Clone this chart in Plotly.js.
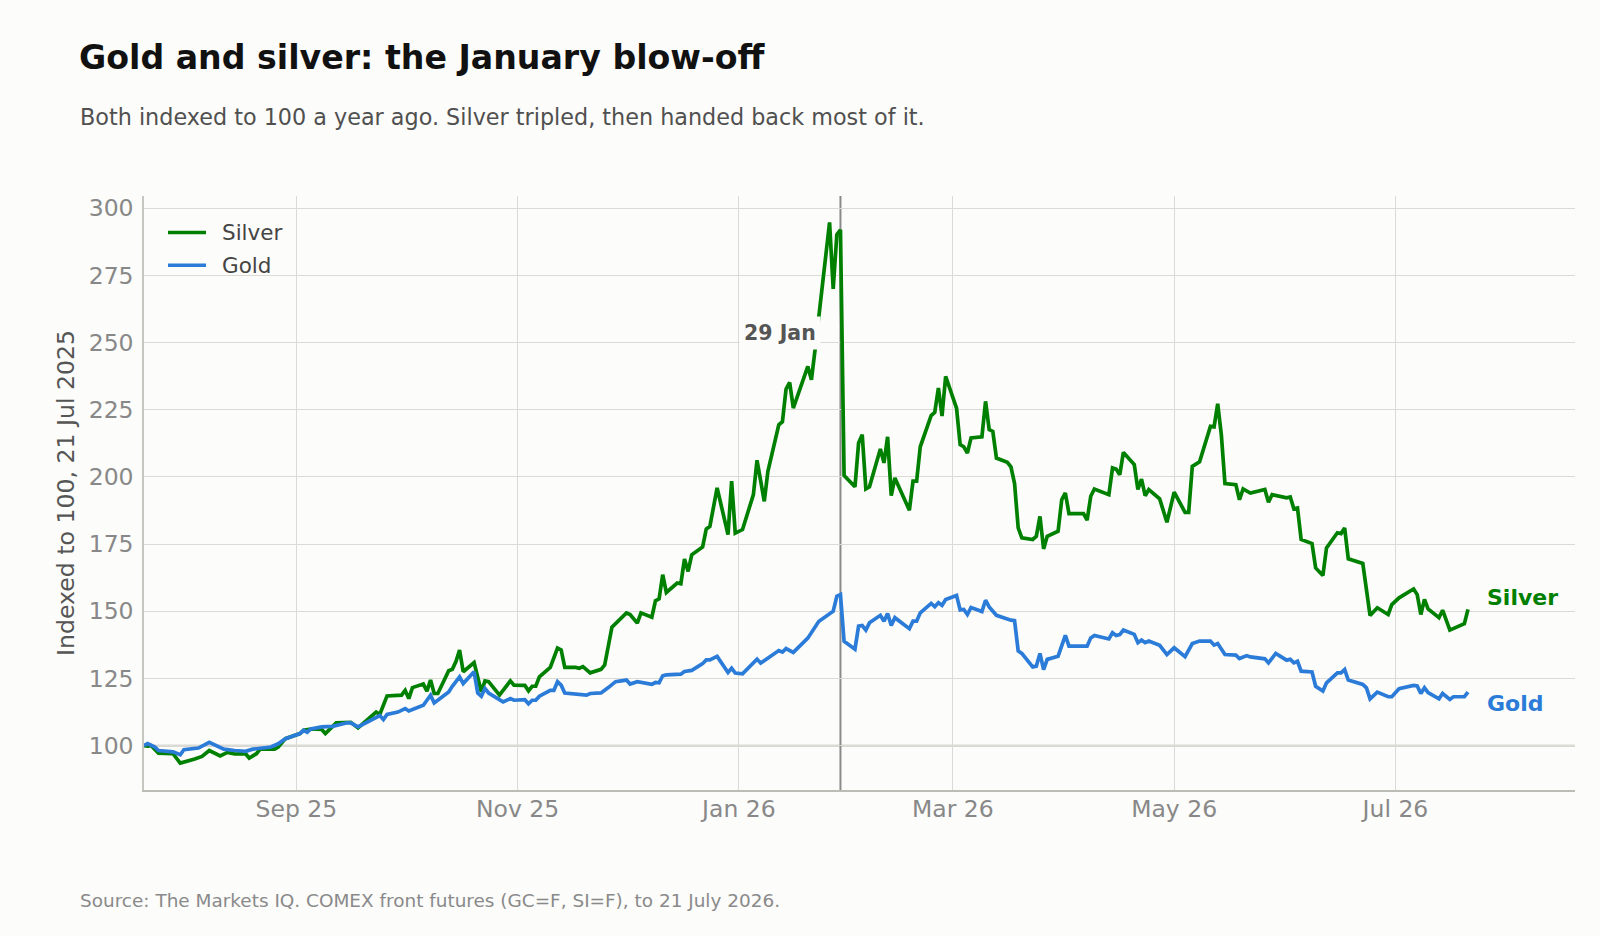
<!DOCTYPE html>
<html>
<head>
<meta charset="utf-8">
<script src="https://cdn.plot.ly/plotly-3.0.1.min.js"></script>
<style>
  html, body { margin: 0; padding: 0; background: #fcfcfa; }
  #chart { width: 1600px; height: 936px; }
</style>
</head>
<body>
<div id="chart"></div>
<script>
// Silver, indexed to 100 on 21 Jul 2025
const silverDates = [
  "2025-07-21","2025-07-22","2025-07-23","2025-07-25","2025-07-29","2025-07-31","2025-08-04","2025-08-06",
  "2025-08-08","2025-08-11","2025-08-13","2025-08-15","2025-08-18","2025-08-19","2025-08-21","2025-08-22",
  "2025-08-26","2025-08-27","2025-08-29","2025-09-02","2025-09-03","2025-09-05","2025-09-08","2025-09-09",
  "2025-09-12","2025-09-16","2025-09-18","2025-09-22","2025-09-23","2025-09-24","2025-09-26","2025-09-30",
  "2025-10-01","2025-10-02","2025-10-03","2025-10-06","2025-10-07","2025-10-08","2025-10-09","2025-10-10",
  "2025-10-13","2025-10-14","2025-10-15","2025-10-16","2025-10-17","2025-10-20","2025-10-22","2025-10-23",
  "2025-10-24","2025-10-27","2025-10-30","2025-10-31","2025-11-03","2025-11-04","2025-11-05","2025-11-06",
  "2025-11-07","2025-11-10","2025-11-12","2025-11-13","2025-11-14","2025-11-17","2025-11-18","2025-11-19",
  "2025-11-21","2025-11-24","2025-11-25","2025-11-27","2025-12-01","2025-12-02","2025-12-04","2025-12-05",
  "2025-12-08","2025-12-09","2025-12-10","2025-12-11","2025-12-12","2025-12-15","2025-12-16","2025-12-17",
  "2025-12-18","2025-12-19","2025-12-22","2025-12-23","2025-12-24","2025-12-26","2025-12-29","2025-12-30",
  "2025-12-31","2026-01-02","2026-01-05","2026-01-06","2026-01-08","2026-01-09","2026-01-12","2026-01-13",
  "2026-01-14","2026-01-15","2026-01-16","2026-01-20","2026-01-21","2026-01-22","2026-01-23","2026-01-26",
  "2026-01-27","2026-01-28","2026-01-29","2026-01-30","2026-02-02","2026-02-03","2026-02-04","2026-02-05",
  "2026-02-06","2026-02-09","2026-02-10","2026-02-11","2026-02-12","2026-02-13","2026-02-17","2026-02-18",
  "2026-02-19","2026-02-20","2026-02-23","2026-02-24","2026-02-25","2026-02-26","2026-02-27","2026-03-02",
  "2026-03-03","2026-03-04","2026-03-05","2026-03-06","2026-03-09","2026-03-10","2026-03-11","2026-03-12",
  "2026-03-13","2026-03-16","2026-03-17","2026-03-18","2026-03-19","2026-03-20","2026-03-23","2026-03-24",
  "2026-03-25","2026-03-26","2026-03-27","2026-03-30","2026-03-31","2026-04-01","2026-04-02","2026-04-06",
  "2026-04-07","2026-04-08","2026-04-09","2026-04-13","2026-04-14","2026-04-15","2026-04-16","2026-04-17",
  "2026-04-20","2026-04-21","2026-04-22","2026-04-23","2026-04-24","2026-04-27","2026-04-29","2026-05-01",
  "2026-05-04","2026-05-05","2026-05-06","2026-05-08","2026-05-11","2026-05-12","2026-05-13","2026-05-14",
  "2026-05-15","2026-05-18","2026-05-19","2026-05-20","2026-05-22","2026-05-26","2026-05-27","2026-05-28",
  "2026-06-01","2026-06-02","2026-06-03","2026-06-04","2026-06-05","2026-06-08","2026-06-09","2026-06-11",
  "2026-06-12","2026-06-15","2026-06-16","2026-06-17","2026-06-18","2026-06-22","2026-06-24","2026-06-26",
  "2026-06-29","2026-06-30","2026-07-02","2026-07-06","2026-07-07","2026-07-08","2026-07-09","2026-07-10",
  "2026-07-13","2026-07-14","2026-07-16","2026-07-20","2026-07-21"
];
const silverIndex = [
  100, 99.8, 100, 97.2, 97, 93.5, 95, 96,
  98.2, 96.2, 97.5, 96.9, 97, 95.4, 97, 98.7,
  98.7, 99.5, 102.6, 104.5, 105.7, 106.2, 106, 104.5,
  108.5, 108.7, 106.6, 111.2, 112.5, 111.6, 118.5, 118.8,
  120.6, 117.5, 121.6, 122.9, 120.3, 124.4, 119.4, 119.4,
  127.9, 128.4, 131.3, 135.6, 127.5, 130.9, 120, 124.1,
  123.8, 118.8, 124.1, 122.5, 122.4, 120.4, 122.1, 122.1,
  125.6, 129.1, 136.3, 135.6, 129.1, 129.1, 128.8, 129.4,
  127.1, 128.4, 130, 144.1, 149.4, 148.8, 145.6, 149.4,
  147.8, 153.9, 154.6, 163.6, 157, 160.5, 160.2, 169.4,
  164.8, 171, 173.9, 180.6, 181.6, 195.9, 178.5, 198.4,
  179.1, 180.4, 193.4, 206.2, 190.9, 202.1, 219.4, 220.5,
  232.7, 235.1, 225.6, 241.1, 236.1, 247.3, 259, 294.7,
  269.9, 290.1, 291.9, 200.5, 196.3, 212.6, 215.7, 195.5,
  196.3, 210.4, 205.2, 214.9, 193, 199.6, 187.6, 198.4,
  198.4, 211.2, 222.8, 224, 233.1, 222.6, 237.4, 225.6,
  212, 211.2, 208.9, 214.5, 214.9, 228.1, 217.6, 216.9,
  207, 205.4, 203.7, 197.5, 181, 177.3, 176.7, 177.9,
  185.3, 173.2, 177.9, 179.8, 191.5, 194, 186.3, 186.3,
  183.9, 192.8, 195.5, 193.4, 203.3, 202.9, 200.8, 209.1,
  204.6, 195.3, 199.2, 193, 195.3, 191.8, 183.1, 194.3,
  186.8, 186.8, 203.9, 205.6, 218.8, 218.6, 227.2, 215.7,
  197.5, 197.1, 191.5, 195.5, 194, 195.3, 190.6, 193.4,
  192.2, 192.5, 188.1, 188.4, 176.7, 175.2, 166.1, 163.3,
  173.6, 179.2, 178.9, 181, 169.5, 167.8, 148.4, 151.3,
  148.8, 152.5, 155, 158.3, 156.2, 148.8, 154.4, 150.9,
  147.6, 150.4, 143, 145.4, 150.7
];

// Gold, indexed to 100 on 21 Jul 2025
const goldDates = [
  "2025-07-21","2025-07-22","2025-07-24","2025-07-25","2025-07-29","2025-07-31","2025-08-01","2025-08-05",
  "2025-08-08","2025-08-11","2025-08-12","2025-08-15","2025-08-18","2025-08-20","2025-08-22","2025-08-25",
  "2025-08-27","2025-08-29","2025-09-02","2025-09-03","2025-09-04","2025-09-05","2025-09-08","2025-09-11",
  "2025-09-15","2025-09-16","2025-09-18","2025-09-22","2025-09-24","2025-09-25","2025-09-26","2025-09-29",
  "2025-10-01","2025-10-02","2025-10-06","2025-10-07","2025-10-08","2025-10-09","2025-10-13","2025-10-14",
  "2025-10-16","2025-10-17","2025-10-20","2025-10-21","2025-10-22","2025-10-23","2025-10-24","2025-10-28",
  "2025-10-30","2025-10-31","2025-11-03","2025-11-04","2025-11-05","2025-11-06","2025-11-07","2025-11-10",
  "2025-11-11","2025-11-12","2025-11-13","2025-11-14","2025-11-18","2025-11-20","2025-11-21","2025-11-24",
  "2025-11-26","2025-11-28","2025-12-01","2025-12-02","2025-12-04","2025-12-05","2025-12-08","2025-12-09",
  "2025-12-10","2025-12-11","2025-12-12","2025-12-16","2025-12-17","2025-12-19","2025-12-22","2025-12-23",
  "2025-12-24","2025-12-26","2025-12-29","2025-12-30","2025-12-31","2026-01-02","2026-01-06","2026-01-07",
  "2026-01-09","2026-01-12","2026-01-13","2026-01-14","2026-01-16","2026-01-20","2026-01-23","2026-01-26",
  "2026-01-27","2026-01-28","2026-01-29","2026-01-30","2026-02-02","2026-02-03","2026-02-04","2026-02-05",
  "2026-02-06","2026-02-09","2026-02-10","2026-02-11","2026-02-12","2026-02-13","2026-02-17","2026-02-18",
  "2026-02-19","2026-02-20","2026-02-23","2026-02-24","2026-02-25","2026-02-26","2026-02-27","2026-03-02",
  "2026-03-03","2026-03-04","2026-03-05","2026-03-06","2026-03-09","2026-03-10","2026-03-11","2026-03-13",
  "2026-03-16","2026-03-17","2026-03-18","2026-03-19","2026-03-20","2026-03-23","2026-03-24","2026-03-25",
  "2026-03-26","2026-03-27","2026-03-30","2026-04-01","2026-04-02","2026-04-06","2026-04-07","2026-04-08",
  "2026-04-09","2026-04-13","2026-04-14","2026-04-15","2026-04-16","2026-04-17","2026-04-20","2026-04-21",
  "2026-04-22","2026-04-23","2026-04-24","2026-04-27","2026-04-29","2026-05-01","2026-05-04","2026-05-06",
  "2026-05-08","2026-05-11","2026-05-12","2026-05-13","2026-05-15","2026-05-18","2026-05-19","2026-05-21",
  "2026-05-22","2026-05-26","2026-05-27","2026-05-29","2026-06-01","2026-06-02","2026-06-03","2026-06-04",
  "2026-06-05","2026-06-08","2026-06-09","2026-06-11","2026-06-12","2026-06-15","2026-06-16","2026-06-17",
  "2026-06-18","2026-06-22","2026-06-23","2026-06-24","2026-06-26","2026-06-29","2026-06-30","2026-07-02",
  "2026-07-06","2026-07-07","2026-07-08","2026-07-09","2026-07-10","2026-07-13","2026-07-14","2026-07-16",
  "2026-07-17","2026-07-20","2026-07-21"
];
const goldIndex = [
  100, 100.8, 99.5, 98.2, 97.7, 96.6, 98.5, 99.1,
  101.2, 99.5, 98.7, 98.2, 97.9, 98.7, 99.1, 99.5,
  100.7, 102.6, 104.5, 105.7, 105, 106.2, 107, 107.2,
  108.5, 108.5, 107, 110, 111.2, 109.7, 111.6, 112.5,
  113.8, 112.9, 115, 116.9, 118.8, 115.9, 120, 122.1,
  125.6, 123.1, 127.5, 119.6, 118.4, 121.3, 119.6, 116.3,
  117.5, 116.9, 117.1, 115.6, 116.9, 116.9, 118.4, 120.6,
  120.6, 123.8, 122.5, 119.6, 119.1, 118.8, 119.4, 119.6,
  121.6, 123.8, 124.4, 122.9, 123.8, 123.6, 122.8, 123.5,
  123.4, 126, 126.3, 126.6, 127.6, 128, 130.5, 131.9,
  131.9, 133.2, 127.2, 128.8, 127, 126.7, 132.2, 130.7,
  132.5, 135.4, 134.8, 136.1, 134.7, 140, 146.2, 149.3,
  150, 155.6, 156.2, 138.8, 135.9, 144.5, 144.7, 143,
  145.7, 148.5, 146.3, 149.2, 144.7, 147.6, 143.5, 146.3,
  146.3, 149.4, 152.9, 151.7, 153.2, 152.2, 154.4, 155.9,
  150.5, 150.7, 148.8, 151.4, 149.9, 154.1, 151.6, 148.5,
  147, 146.7, 146.5, 135.2, 134.3, 129.3, 129.6, 134.3,
  128.3, 132.1, 133.3, 141, 137, 137, 137, 140.1,
  141, 139.7, 142, 141, 141.3, 143, 141.4, 138.3,
  139.3, 138.3, 138.9, 137.3, 133.9, 136.4, 133.1, 138,
  138.9, 138.9, 137.4, 138, 133.9, 133.7, 132.4, 133.5,
  133, 132.3, 130.8, 134.3, 131.8, 132.1, 130.8, 131.4,
  127.7, 127.4, 122.1, 120.3, 123.4, 127.1, 127.1, 128.3,
  124.4, 122.8, 121.5, 117.4, 119.9, 118.2, 118.2, 121.2,
  122.4, 122.2, 119.4, 121.5, 119.7, 117.4, 119.4, 117.2,
  118.2, 118.2, 119.9
];

// Axis ticks
const xTickDates = ["2025-09-01","2025-11-01","2026-01-01","2026-03-01","2026-05-01","2026-07-01"];
const xTickLabels = ["Sep 25","Nov 25","Jan 26","Mar 26","May 26","Jul 26"];
const yTickValues = [100, 125, 150, 175, 200, 225, 250, 275, 300];

const seriesNames = ["Silver", "Gold"];
const peakDate = "2026-01-29";
const peakLabel = "29 Jan";

const SILVER = "#008000";
const GOLD = "#2b7bd8";
const BG = "#fcfcfa";
const FONT = "DejaVu Sans, Verdana, sans-serif";

// plot area in pixels, used to place the furniture around it
const PLOT = { left: 144, top: 196, width: 1431, height: 594 };
const px = (x) => (x - PLOT.left) / PLOT.width;
const py = (y) => (PLOT.top + PLOT.height - y) / PLOT.height;

const traces = [
  {
    type: "scatter", mode: "lines", name: seriesNames[0],
    x: silverDates, y: silverIndex,
    line: { color: SILVER, width: 3.7 },
    hoverinfo: "x+y+name"
  },
  {
    type: "scatter", mode: "lines", name: seriesNames[1],
    x: goldDates, y: goldIndex,
    line: { color: GOLD, width: 3.7 },
    hoverinfo: "x+y+name"
  }
];

const lastSilver = silverIndex[silverIndex.length - 1];
const lastGold = goldIndex[goldIndex.length - 1];

// key in the upper left corner
const keyRows = [
  { name: seriesNames[0], color: SILVER, y: 232.5 },
  { name: seriesNames[1], color: GOLD, y: 265.3 }
];
const keyShapes = keyRows.map(r => ({
  type: "line", xref: "paper", yref: "paper",
  x0: px(168), x1: px(206), y0: py(r.y), y1: py(r.y),
  line: { color: r.color, width: 3.6 }
}));
const keyLabels = keyRows.map(r => ({
  text: r.name, xref: "paper", yref: "paper", x: px(220), y: py(r.y),
  xanchor: "left", yanchor: "middle", showarrow: false,
  font: { family: FONT, size: 21.5, color: "#444" }
}));

const layout = {
  width: 1600, height: 936,
  paper_bgcolor: BG, plot_bgcolor: BG,
  font: { family: FONT, color: "#444" },
  margin: { l: 144, r: 25, t: 196, b: 146 },
  showlegend: false,
  title: {
    text: "<b>Gold and silver: the January blow-off</b>",
    font: { family: FONT, size: 33.2, color: "#111" },
    x: 79 / 1600, xref: "container", xanchor: "left",
    y: 1 - 57 / 936, yref: "container", yanchor: "middle"
  },
  xaxis: {
    type: "date",
    range: ["2025-07-21", "2026-08-19 12:00"],
    tickvals: xTickDates, ticktext: xTickLabels,
    tickfont: { family: FONT, size: 23.5, color: "#888" },
    ticks: "", ticklabelstandoff: -3,
    showgrid: true, gridcolor: "#dcdad5", gridwidth: 1.4,
    showline: true, linecolor: "#bcbcb6", linewidth: 2,
    zeroline: false, fixedrange: true
  },
  yaxis: {
    range: [83.5, 304.5],
    tickvals: yTickValues,
    tickfont: { family: FONT, size: 23.5, color: "#888" },
    ticks: "", ticklabelstandoff: 4,
    showgrid: true, gridcolor: "#dcdad5", gridwidth: 1.4,
    showline: true, linecolor: "#c8c6c0", linewidth: 1.5,
    zeroline: false, fixedrange: true,
    title: {
      text: "Indexed to 100, 21 Jul 2025",
      font: { family: FONT, size: 23.6, color: "#555" },
      standoff: 7
    },
    automargin: false
  },
  shapes: [
    // base line at the index value of 100
    { type: "line", xref: "paper", x0: 0, x1: 1, yref: "y", y0: 100, y1: 100,
      line: { color: "#b3b3ad", width: 1.8 }, layer: "below" },
    // marker for the silver peak
    { type: "line", xref: "x", x0: peakDate, x1: peakDate, yref: "paper", y0: 0, y1: 1,
      line: { color: "#8a8a8a", width: 2 }, layer: "below" },
    ...keyShapes
  ],
  annotations: [
    {
      text: "Both indexed to 100 a year ago. Silver tripled, then handed back most of it.",
      xref: "paper", yref: "paper", x: px(78), y: py(117),
      xanchor: "left", yanchor: "middle", showarrow: false,
      font: { family: FONT, size: 22.3, color: "#505050" }
    },
    {
      text: "Source: The Markets IQ. COMEX front futures (GC=F, SI=F), to 21 July 2026.",
      xref: "paper", yref: "paper", x: px(78), y: py(900),
      xanchor: "left", yanchor: "middle", showarrow: false,
      font: { family: FONT, size: 18.45, color: "#8a8a8a" }
    },
    {
      text: "<b>" + peakLabel + "</b>",
      xref: "x", yref: "y", x: peakDate, y: 253.5,
      xanchor: "right", yanchor: "middle", xshift: -19, showarrow: false,
      bgcolor: BG, borderpad: 4,
      font: { family: FONT, size: 20.5, color: "#555" }
    },
    {
      text: "<b>" + seriesNames[0] + "</b>",
      xref: "x", yref: "y", x: silverDates[silverDates.length - 1], y: lastSilver,
      xanchor: "left", yanchor: "middle", xshift: 17, yshift: 12, showarrow: false,
      font: { family: FONT, size: 22, color: SILVER }
    },
    {
      text: "<b>" + seriesNames[1] + "</b>",
      xref: "x", yref: "y", x: goldDates[goldDates.length - 1], y: lastGold,
      xanchor: "left", yanchor: "middle", xshift: 17, yshift: -11, showarrow: false,
      font: { family: FONT, size: 22, color: GOLD }
    },
    ...keyLabels
  ]
};

Plotly.newPlot("chart", traces, layout, { displayModeBar: false, responsive: false });
</script>
</body>
</html>
